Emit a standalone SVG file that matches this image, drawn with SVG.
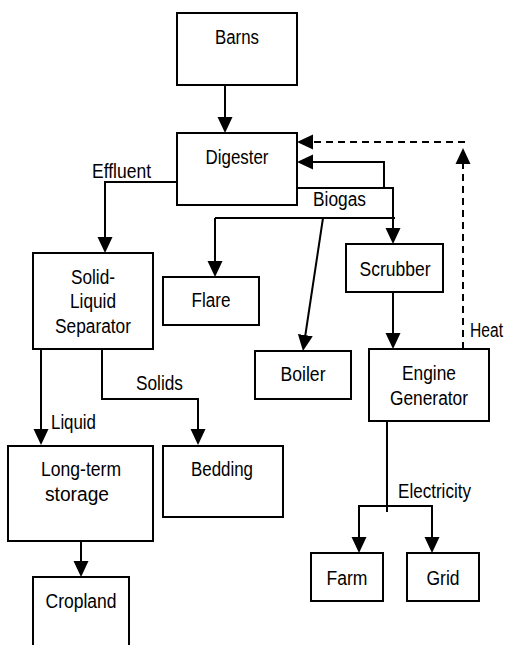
<svg xmlns="http://www.w3.org/2000/svg" width="509" height="645" viewBox="0 0 509 645">
<style>
.box{fill:#fff;stroke:#000;stroke-width:2}
.ln{fill:none;stroke:#000;stroke-width:2}
.arr{marker-end:url(#ah)}
.dash{stroke-dasharray:7 5}
text{font-family:"Liberation Sans",Arial,sans-serif;font-size:20px;fill:#000}
.c{text-anchor:middle}
</style>
<defs>
<marker id="ah" markerUnits="userSpaceOnUse" markerWidth="16" markerHeight="16" viewBox="0 0 16 16" refX="13" refY="8" orient="auto">
<path d="M0,0.5 L16,8 L0,15.5 z" fill="#000"/>
</marker>
</defs>
<rect width="509" height="645" fill="#fff"/>
<g id="connectors">
<path class="ln arr" d="M225,85 V130"/>
<path class="ln arr" d="M177,182 H105 V250"/>
<path class="ln arr" d="M297,188 H393 V241"/>
<path class="ln arr" d="M384,188 V162 H300"/>
<path class="ln" d="M395,218 H215"/>
<path class="ln arr" d="M215,218 V274"/>
<path class="ln arr" d="M323,218 L303.4,348"/>
<path class="ln arr" d="M393,293 V346"/>
<path class="ln arr dash" d="M463,349 V151"/>
<path class="ln arr dash" d="M465,142 H300"/>
<path class="ln arr" d="M41,349 V442"/>
<path class="ln arr" d="M102,349 V399 H198 V442"/>
<path class="ln arr" d="M81,541 V574"/>
<path class="ln" d="M387,421 V512"/>
<path class="ln arr" d="M387,506 H359 V550"/>
<path class="ln arr" d="M387,506 H432 V550"/>
</g>
<g id="barns"><rect class="box" x="177" y="13" width="120" height="72"/><text class="c" x="237" y="44" textLength="44" lengthAdjust="spacingAndGlyphs">Barns</text></g>
<g id="digester"><rect class="box" x="177" y="133" width="120" height="72"/><text class="c" x="237" y="164" textLength="63" lengthAdjust="spacingAndGlyphs">Digester</text></g>
<g id="separator"><rect class="box" x="33" y="253" width="120" height="96"/><text class="c" x="93" y="284" textLength="44" lengthAdjust="spacingAndGlyphs">Solid-</text><text class="c" x="93" y="308" textLength="46" lengthAdjust="spacingAndGlyphs">Liquid</text><text class="c" x="93" y="333" textLength="76" lengthAdjust="spacingAndGlyphs">Separator</text></g>
<g id="flare"><rect class="box" x="163" y="277" width="96" height="48"/><text class="c" x="211" y="307" textLength="39" lengthAdjust="spacingAndGlyphs">Flare</text></g>
<g id="scrubber"><rect class="box" x="346" y="244" width="97" height="48"/><text class="c" x="395" y="276" textLength="71" lengthAdjust="spacingAndGlyphs">Scrubber</text></g>
<g id="boiler"><rect class="box" x="255" y="351" width="96" height="48"/><text class="c" x="303" y="381" textLength="45" lengthAdjust="spacingAndGlyphs">Boiler</text></g>
<g id="engine"><rect class="box" x="369" y="349" width="120" height="72"/><text class="c" x="429" y="380" textLength="54" lengthAdjust="spacingAndGlyphs">Engine</text><text class="c" x="429" y="405" textLength="78" lengthAdjust="spacingAndGlyphs">Generator</text></g>
<g id="storage"><rect class="box" x="8" y="446" width="145" height="95"/><text class="c" x="81" y="476" textLength="80" lengthAdjust="spacingAndGlyphs">Long-term</text><text class="c" x="77" y="501" textLength="64" lengthAdjust="spacingAndGlyphs">storage</text></g>
<g id="bedding"><rect class="box" x="163" y="446" width="120" height="71"/><text class="c" x="222" y="476" textLength="62" lengthAdjust="spacingAndGlyphs">Bedding</text></g>
<g id="cropland"><rect class="box" x="33" y="577" width="96" height="80"/><text class="c" x="81" y="608" textLength="71" lengthAdjust="spacingAndGlyphs">Cropland</text></g>
<g id="farm"><rect class="box" x="311" y="553" width="72" height="48"/><text class="c" x="347" y="585" textLength="41" lengthAdjust="spacingAndGlyphs">Farm</text></g>
<g id="grid"><rect class="box" x="407" y="553" width="72" height="48"/><text class="c" x="443" y="585" textLength="33" lengthAdjust="spacingAndGlyphs">Grid</text></g>
<g id="labels">
<text x="92" y="178" textLength="59" lengthAdjust="spacingAndGlyphs">Effluent</text>
<text x="313" y="206" textLength="53" lengthAdjust="spacingAndGlyphs">Biogas</text>
<text x="136" y="390" textLength="47" lengthAdjust="spacingAndGlyphs">Solids</text>
<text x="51" y="429" textLength="45" lengthAdjust="spacingAndGlyphs">Liquid</text>
<text x="398" y="498" textLength="73" lengthAdjust="spacingAndGlyphs">Electricity</text>
<text x="470" y="337" textLength="33" lengthAdjust="spacingAndGlyphs">Heat</text>
</g>
</svg>
